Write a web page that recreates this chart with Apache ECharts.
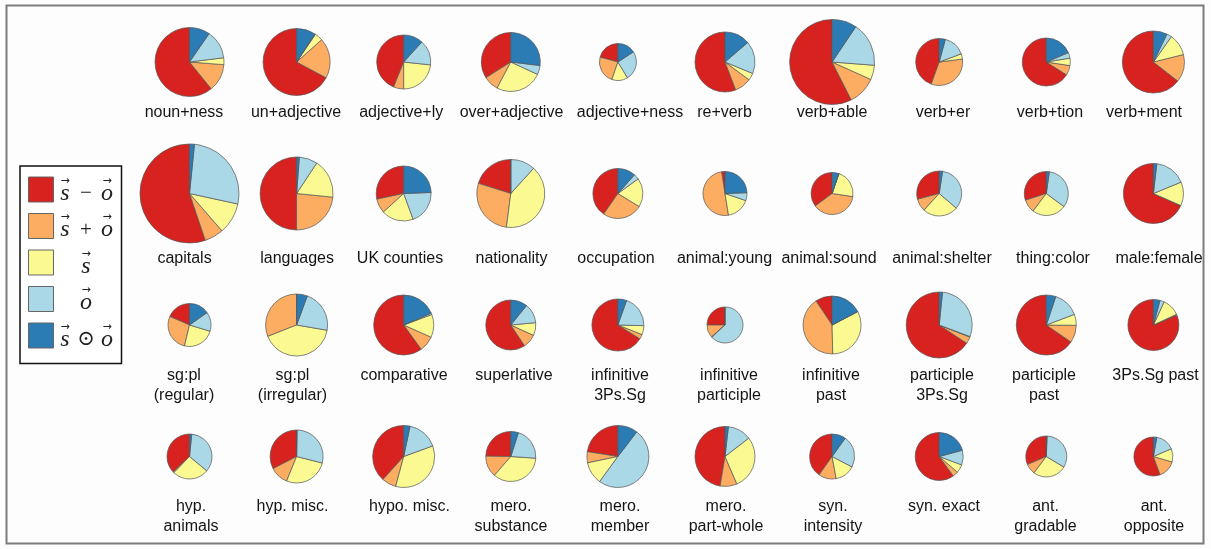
<!DOCTYPE html>
<html>
<head>
<meta charset="utf-8">
<title>Offset composition by relation</title>
<script src="https://cdn.jsdelivr.net/npm/echarts@6/dist/echarts.min.js"></script>
<style>
  html, body { margin: 0; padding: 0; background: #fdfdfd; }
  #chart { width: 1211px; height: 549px; }
</style>
</head>
<body>
<div id="chart"></div>
<script>
// Relation names, row by row (10 per row)
const categories = [
  'noun+ness', 'un+adjective', 'adjective+ly', 'over+adjective', 'adjective+ness',
  're+verb', 'verb+able', 'verb+er', 'verb+tion', 'verb+ment',
  'capitals', 'languages', 'UK counties', 'nationality', 'occupation',
  'animal:young', 'animal:sound', 'animal:shelter', 'thing:color', 'male:female',
  'sg:pl\n(regular)', 'sg:pl\n(irregular)', 'comparative', 'superlative', 'infinitive\n3Ps.Sg',
  'infinitive\nparticiple', 'infinitive\npast', 'participle\n3Ps.Sg', 'participle\npast', '3Ps.Sg past',
  'hyp.\nanimals', 'hyp. misc.', 'hypo. misc.', 'mero.\nsubstance', 'mero.\nmember',
  'mero.\npart-whole', 'syn.\nintensity', 'syn. exact', 'ant.\ngradable', 'ant.\nopposite'
];

// Share (%) of each offset type per relation
const sMinusO = [60.8, 67.2, 43.9, 34.0, 20.8, 55.8, 57.4, 44.6, 66.0, 64.4,
                 55.2, 50.0, 28.3, 20.2, 40.3, 2.5, 35.0, 29.2, 30.0, 68.4,
                 18.5, 0.0, 60.3, 59.3, 66.1, 25.0, 9.4, 65.7, 65.3, 81.4,
                 37.0, 32.6, 38.3, 24.8, 22.5, 47.4, 40.2, 60.0, 31.6, 55.6];
const sPlusO  = [12.9, 19.4, 6.1, 8.3, 23.9, 9.0, 10.8, 32.6, 6.6, 14.4,
                 6.2, 23.4, 8.5, 27.8, 25.8, 50.0, 37.2, 9.1, 9.8, 0.0,
                 27.8, 31.0, 8.4, 8.9, 2.9, 11.5, 41.0, 3.3, 9.4, 0.5,
                 0.8, 11.3, 7.5, 13.8, 5.8, 9.1, 12.7, 3.7, 8.3, 14.9];
const sOnly   = [3.2, 3.9, 23.3, 25.8, 13.9, 3.9, 5.5, 3.6, 5.0, 11.3,
                 10.2, 17.3, 18.8, 40.4, 18.7, 17.2, 22.0, 25.5, 25.1, 12.8,
                 24.1, 41.3, 12.4, 8.3, 5.6, 0.5, 32.4, 0.3, 5.9, 11.2,
                 26.2, 27.2, 34.7, 35.3, 11.7, 29.0, 14.4, 5.6, 26.7, 11.0];
const oOnly   = [13.4, 0.3, 15.0, 5.0, 25.5, 17.5, 16.8, 15.2, 3.8, 2.6,
                 26.8, 8.1, 20.0, 11.7, 3.5, 5.8, 0.0, 33.9, 33.0, 17.0,
                 14.5, 22.1, 0.8, 12.7, 20.0, 63.0, 0.0, 29.1, 14.1, 2.7,
                 34.4, 28.7, 16.1, 21.2, 49.6, 12.7, 22.8, 9.9, 33.2, 15.7];
const sDotO   = [9.6, 9.2, 11.7, 26.9, 15.8, 13.7, 9.4, 4.2, 18.6, 7.2,
                 1.6, 1.2, 24.4, 0.0, 11.5, 24.4, 5.2, 2.4, 2.2, 1.8,
                 15.2, 5.6, 18.6, 10.8, 5.4, 0.0, 17.3, 1.6, 5.1, 4.2,
                 1.6, 0.3, 3.3, 4.9, 10.4, 1.8, 9.9, 20.8, 0.6, 2.8];

// Relative size of each relation (pie area)
const pieTotals = [11.90, 11.22, 7.29, 8.70, 3.42, 9.00, 18.06, 5.52, 5.76, 9.61,
                   24.50, 13.32, 7.56, 11.56, 6.25, 4.84, 4.41, 5.06, 4.84, 9.00,
                   4.62, 9.61, 9.00, 6.25, 6.76, 3.24, 8.41, 10.89, 9.00, 6.50,
                   5.06, 7.02, 9.61, 6.25, 9.61, 9.00, 5.06, 5.76, 4.20, 3.80];

// Offset types; legend shows each as vector notation (arrow line over letter line)
const offsetNames = ['s-o', 's+o', 's', 'o', 's.o'];
const legendText = {
  's-o': '{a|\u2192}{g| }{a|\u2192}\n{v|s}{op|\u2212}{v|o}',
  's+o': '{a|\u2192}{g| }{a|\u2192}\n{v|s}{op|+}{v|o}',
  's':   '{a|\u2192}\n{v|s}',
  'o':   '{a|\u2192}\n{v|o}',
  's.o': '{a|\u2192}{g| }{a|\u2192}\n{v|s}{op|\u2299}{v|o}'
};

// ---- layout ----
const COLS = 10;
const colX0 = 189.5, colStep = 107.1;
const rowY0 = 62, rowStep = 131.5;
const labelRowY = [113, 259, 376, 507];      // centre of first label line
const labelDx = [
  -5.5, -0.5, -2.5, 0.7, 12.1, -0.5, -0.1, 3.8, 3.7, -9.4,
  -5.0, 0.5, -3.7, 0.7, -1.9, -0.5, -3.1, 2.8, 6.7, 5.6,
  -5.5, -4.1, 0.3, 3.2, 2.1, 4.0, -1.1, 2.8, -2.3, 2.1,
  1.5, -4.1, 5.8, 0.2, 2.1, 1.0, 0.9, 4.8, -0.8, 0.6
];
const palette = ['#d7221f', '#fcad62', '#fbfa92', '#aad8e6', '#2b7bb5'];
const valueSets = [sMinusO, sPlusO, sOnly, oOnly, sDotO];

const series = categories.map((name, i) => {
  const col = i % COLS, row = Math.floor(i / COLS);
  return {
    type: 'pie',
    name: name,
    center: [colX0 + col * colStep, rowY0 + row * rowStep],
    radius: 10 * Math.sqrt(pieTotals[i]),
    startAngle: 90,
    clockwise: false,
    silent: true,
    animation: false,
    label: { show: false },
    labelLine: { show: false },
    itemStyle: { borderColor: '#555', borderWidth: 0.7 },
    data: offsetNames.map((n, k) => ({ name: n, value: valueSets[k][i] }))
  };
});

const labels = categories.map((name, i) => {
  const col = i % COLS, row = Math.floor(i / COLS);
  return {
    type: 'text',
    x: colX0 + col * colStep + labelDx[i],
    y: labelRowY[row] - 10,
    silent: true,
    style: {
      text: name,
      align: 'center',
      verticalAlign: 'top',
      font: '16px "Liberation Sans", Arial, sans-serif',
      lineHeight: 20,
      fill: '#141414'
    }
  };
});

const mathFont = '"Liberation Serif", "DejaVu Serif", serif';

const chart = echarts.init(document.getElementById('chart'), null, { renderer: 'canvas' });
chart.setOption({
  backgroundColor: '#fdfdfd',
  animation: false,
  color: palette,
  legend: {
    orient: 'vertical',
    left: 20,
    top: 166,
    padding: [9.5, 8, 12, 8],
    itemWidth: 25,
    itemHeight: 25,
    itemGap: 6.5,
    icon: 'rect',
    selectedMode: false,
    borderColor: '#111',
    borderWidth: 1.5,
    backgroundColor: '#ffffff',
    itemStyle: { borderColor: '#666', borderWidth: 1 },
    data: offsetNames,
    formatter: n => legendText[n],
    textStyle: {
      width: 55,
      rich: {
        a:  { fontFamily: '"DejaVu Sans", sans-serif', fontSize: 11, lineHeight: 8, width: 13, align: 'center', color: '#222' },
        g:  { fontSize: 11, lineHeight: 8, width: 29, align: 'center' },
        v:  { fontFamily: mathFont, fontStyle: 'italic', fontSize: 24, lineHeight: 17, width: 13, align: 'center', color: '#222' },
        op: { fontFamily: mathFont, fontSize: 21, lineHeight: 17, width: 29, align: 'center', color: '#222' }
      }
    }
  },
  graphic: [
    {
      type: 'rect',
      silent: true,
      shape: { x: 6.5, y: 5.5, width: 1197, height: 538 },
      style: { fill: null, stroke: '#7c7c7c', lineWidth: 2 }
    }
  ].concat(labels),
  series: series
});
</script>
</body>
</html>
